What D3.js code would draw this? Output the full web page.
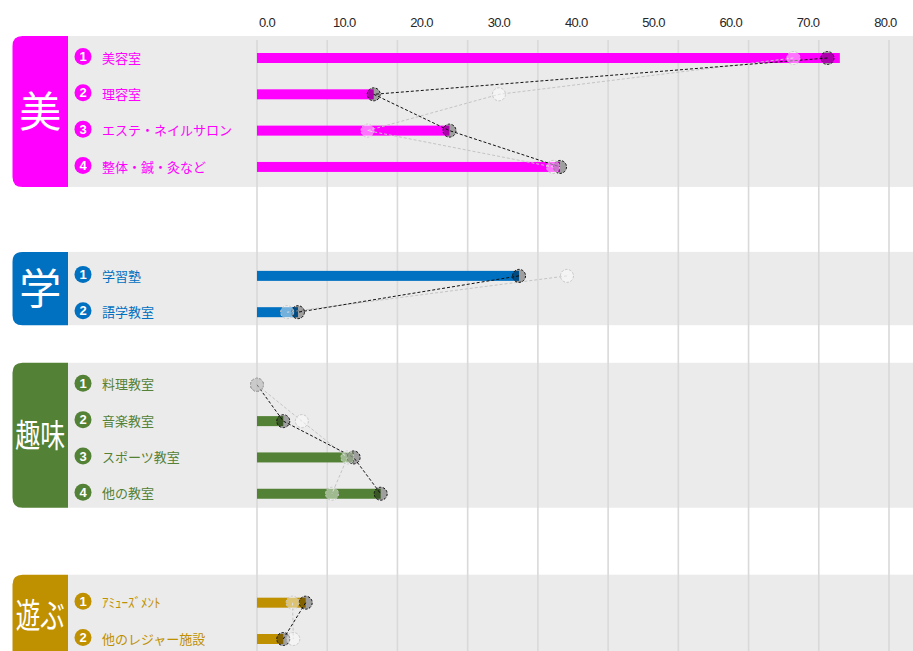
<!DOCTYPE html>
<html>
<head>
<meta charset="utf-8">
<script src="https://cdn.jsdelivr.net/npm/d3@7"></script>
<style>
  html, body { margin: 0; padding: 0; background: #fff; }
  svg { display: block; }
</style>
</head>
<body>
<svg id="chart" width="913" height="651"></svg>
<script>
// groups and rows
const groupNames = ['美', '学', '趣味', '遊ぶ']
const itemGroup = [0, 0, 0, 0, 1, 1, 2, 2, 2, 2, 3, 3]
const itemLabels = [
  '美容室', '理容室', 'エステ・ネイルサロン', '整体・鍼・灸など',
  '学習塾', '語学教室',
  '料理教室', '音楽教室', 'スポーツ教室', '他の教室',
  'ｱﾐｭｰｽﾞﾒﾝﾄ', '他のレジャー施設',
]
const barValues = [75.4, 15.1, 24.9, 39.2, 33.9, 5.3, 0, 3.4, 12.5, 16.0, 6.3, 3.4]
const currentValues = [73.8, 15.1, 24.9, 39.2, 33.9, 5.3, 0, 3.4, 12.5, 16.0, 6.3, 3.4]
const previousValues = [69.4, 31.3, 14.3, 38.3, 40.1, 3.9, 0, 5.8, 11.7, 9.7, 4.6, 4.7]
const tickValues = [0, 10, 20, 30, 40, 50, 60, 70, 80]

// styles / layout
const groupColors = ['#ff00ff', '#0070c0', '#538135', '#bf9000']
const groupStartSlot = [0, 6, 9, 15]
const groupPad = [
  { top: 22, bottom: 20 },
  { top: 24, bottom: 13 },
  { top: 22, bottom: 14 },
  { top: 28, bottom: 30 },
]
// font size and horizontal squeeze of the tab characters
const tabFont = [
  { size: 42, sx: 1 },
  { size: 42, sx: 1 },
  { size: 32, sx: 0.78 },
  { size: 34, sx: 0.72 },
]

const width = 913
const height = 651
const svg = d3.select('#chart')

const x = d3.scaleLinear().domain([0, 80]).range([257, 875.4])
const gridX = d3.scaleLinear().domain([0, 90]).range([257, 889])
const y = d3.scaleLinear().domain([0, 16]).range([58, 639])

// row slot for every item
const rows = itemLabels.map((label, i) => {
  const g = itemGroup[i]
  const idx = itemGroup.slice(0, i).filter((v) => v === g).length
  return {
    label,
    group: g,
    num: idx + 1,
    slot: groupStartSlot[g] + idx,
    bar: barValues[i],
    cur: currentValues[i],
    prev: previousValues[i],
  }
})

const groups = groupNames.map((name, g) => {
  const r = rows.filter((d) => d.group === g)
  const top = y(r[0].slot) - groupPad[g].top
  const bottom = y(r[r.length - 1].slot) + groupPad[g].bottom
  return { name, g, rows: r, top, bottom }
})

// gray panels
svg
  .append('g')
  .selectAll('rect')
  .data(groups)
  .join('rect')
  .attr('x', 68)
  .attr('y', (d) => d.top)
  .attr('width', width - 68)
  .attr('height', (d) => d.bottom - d.top)
  .attr('fill', '#ebebeb')

// colored tabs, rounded on the left
const tabX0 = 12.5
const tabX1 = 68
const rad = 10
svg
  .append('g')
  .selectAll('path')
  .data(groups)
  .join('path')
  .attr('fill', (d) => groupColors[d.g])
  .attr('d', (d) => {
    const t = d.top
    const b = d.bottom
    return `M${tabX1},${t} L${tabX0 + rad},${t} Q${tabX0},${t} ${tabX0},${t + rad}
      L${tabX0},${b - rad} Q${tabX0},${b} ${tabX0 + rad},${b} L${tabX1},${b} Z`
  })

svg
  .append('g')
  .selectAll('text')
  .data(groups)
  .join('text')
  .attr('transform', (d) => {
    const cy = Math.min((d.top + d.bottom) / 2, 616)
    return `translate(${(tabX0 + tabX1) / 2},${cy}) scale(${tabFont[d.g].sx},1)`
  })
  .attr('dy', '0.36em')
  .attr('text-anchor', 'middle')
  .attr('fill', '#fff')
  .style('font-family', '"Noto Sans CJK JP", sans-serif')
  .style('font-size', (d) => tabFont[d.g].size + 'px')
  .text((d) => d.name)

// grid lines
svg
  .append('g')
  .selectAll('line')
  .data(d3.range(0, 91, 10))
  .join('line')
  .attr('x1', (d) => gridX(d))
  .attr('x2', (d) => gridX(d))
  .attr('y1', 40)
  .attr('y2', height)
  .attr('stroke', '#d9d9d9')
  .attr('stroke-width', 1.6)

// tick labels on top
svg
  .append('g')
  .selectAll('text')
  .data(tickValues)
  .join('text')
  .attr('x', (d) => x(d) + 10)
  .attr('y', 22)
  .attr('dy', '0.35em')
  .attr('text-anchor', 'middle')
  .attr('fill', '#262626')
  .style('font-family', '"Liberation Sans", Arial, sans-serif')
  .style('font-size', '13px')
  .style('letter-spacing', '-0.7px')
  .text((d) => d.toFixed(1))

// row labels with numbered circles
const labelG = svg.append('g')
labelG
  .selectAll('circle')
  .data(rows)
  .join('circle')
  .attr('cx', 83)
  .attr('cy', (d) => y(d.slot) - 1.5)
  .attr('r', 8.5)
  .attr('fill', (d) => groupColors[d.group])
labelG
  .selectAll('text.num')
  .data(rows)
  .join('text')
  .attr('class', 'num')
  .attr('x', 83)
  .attr('y', (d) => y(d.slot) - 1.5)
  .attr('dy', '0.36em')
  .attr('text-anchor', 'middle')
  .attr('fill', '#fff')
  .style('font-family', '"Liberation Sans", Arial, sans-serif')
  .style('font-weight', 'bold')
  .style('font-size', '13px')
  .text((d) => d.num)
labelG
  .selectAll('text.lbl')
  .data(rows)
  .join('text')
  .attr('class', 'lbl')
  .attr('x', 102)
  .attr('y', (d) => y(d.slot))
  .attr('dy', '0.36em')
  .attr('fill', (d) => groupColors[d.group])
  .style('font-family', '"Noto Sans CJK JP", sans-serif')
  .style('font-size', '13px')
  .text((d) => d.label)

// bars
svg
  .append('g')
  .selectAll('rect')
  .data(rows)
  .join('rect')
  .attr('x', x(0))
  .attr('y', (d) => y(d.slot) - 5)
  .attr('width', (d) => x(d.bar) - x(0))
  .attr('height', 10)
  .attr('fill', (d) => groupColors[d.group])

// dashed connecting lines inside each group
const line = d3.line()
const lineG = svg.append('g').attr('fill', 'none')
lineG
  .selectAll('path.prev')
  .data(groups)
  .join('path')
  .attr('class', 'prev')
  .attr('stroke', '#c4c4c4')
  .attr('stroke-width', 1)
  .attr('stroke-dasharray', '3,2')
  .attr('d', (d) => line(d.rows.map((r) => [x(r.prev), y(r.slot)])))
lineG
  .selectAll('path.cur')
  .data(groups)
  .join('path')
  .attr('class', 'cur')
  .attr('stroke', '#111')
  .attr('stroke-width', 1)
  .attr('stroke-dasharray', '3,2')
  .attr('d', (d) => line(d.rows.map((r) => [x(r.cur), y(r.slot)])))

// markers: current (dark) then previous (light) on top
svg
  .append('g')
  .selectAll('circle')
  .data(rows)
  .join('circle')
  .attr('cx', (d) => x(d.cur))
  .attr('cy', (d) => y(d.slot))
  .attr('r', 6.5)
  .attr('fill', 'rgba(0,0,0,0.32)')
  .attr('stroke', '#111')
  .attr('stroke-width', 1)
  .attr('stroke-dasharray', '2.5,1.5')

svg
  .append('g')
  .selectAll('circle')
  .data(rows)
  .join('circle')
  .attr('cx', (d) => x(d.prev))
  .attr('cy', (d) => y(d.slot))
  .attr('r', 6.5)
  .attr('fill', 'rgba(255,255,255,0.45)')
  .attr('stroke', '#c8c8c8')
  .attr('stroke-width', 1)
  .attr('stroke-dasharray', '2.5,1.5')
</script>
</body>
</html>
